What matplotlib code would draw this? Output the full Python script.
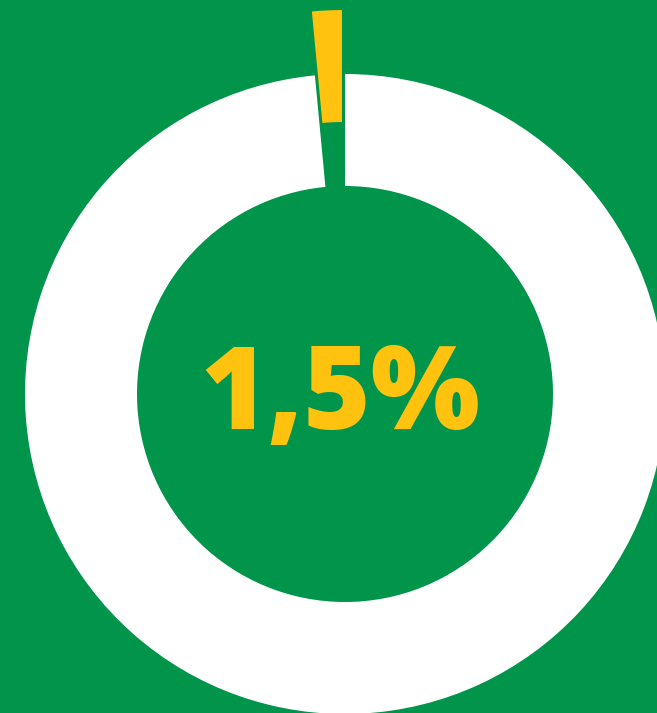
import matplotlib
matplotlib.use("Agg")
import matplotlib.pyplot as plt

# share of the total
labels = ["1,5%", "rest"]
values = [1.5, 98.5]
colors = ["#FFC20E", "#FFFFFF"]
explode = [64, 0]

bg = "#00954A"

fig = plt.figure(figsize=(6.57, 7.13), dpi=100, facecolor=bg)
ax = fig.add_axes([0, 0, 1, 1])
ax.set_facecolor(bg)

ax.pie(values, colors=colors, explode=explode, startangle=90, counterclock=True,
       center=(345, 319), radius=320,
       wedgeprops=dict(width=112, linewidth=0))

ax.set_xlim(0, 657)
ax.set_ylim(0, 713)
ax.set_aspect("equal")
ax.axis("off")

ax.text(340, 314, labels[0], ha="center", va="center", color=colors[0],
        fontsize=83, fontweight=800, family=["Open Sans", "DejaVu Sans"])

fig.savefig("out.png", dpi=100, facecolor=bg)
